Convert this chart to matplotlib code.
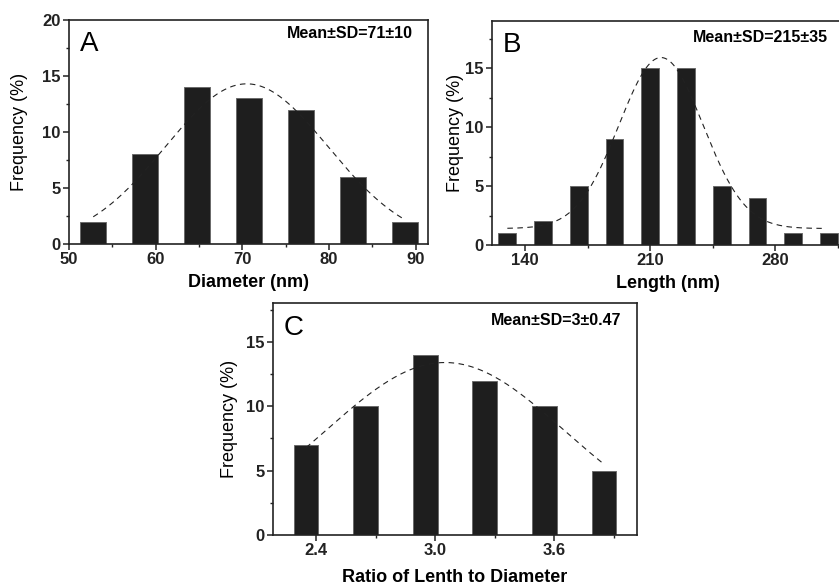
import matplotlib
matplotlib.use("Agg")
import matplotlib.pyplot as plt
import numpy as np
from matplotlib.ticker import MultipleLocator, FormatStrFormatter

plt.rcParams['font.family'] = ['Liberation Sans', 'DejaVu Sans']

# Panel A: diameter histogram
diam_centers = [52.8, 58.8, 64.8, 70.8, 76.8, 82.8, 88.8]
diam_freq = [2, 8, 14, 13, 12, 6, 2]
diam_fit = dict(y0=0.0, xc=70.5, amp=14.3, sigma=9.4, x0=52.8, x1=88.8)

# Panel B: length histogram
len_centers = [130, 150, 170, 190, 210, 230, 250, 270, 290, 310]
len_freq = [1, 2, 5, 9, 15, 15, 5, 4, 1, 1]
len_fit = dict(y0=1.4, xc=216, amp=14.5, sigma=23.5, x0=130, x1=306)

# Panel C: aspect ratio histogram
ratio_centers = [2.35, 2.65, 2.95, 3.25, 3.55, 3.85]
ratio_freq = [7, 10, 14, 12, 10, 5]
ratio_fit = dict(y0=0.0, xc=3.05, amp=13.4, sigma=0.6, x0=2.35, x1=3.85)


def gauss_fit(p, n=200):
    x = np.linspace(p['x0'], p['x1'], n)
    y = p['y0'] + p['amp'] * np.exp(-(x - p['xc']) ** 2 / (2 * p['sigma'] ** 2))
    return x, y


def panel(ax, centers, freq, width, fit, letter, note, xlabel,
          xlim, ylim, xmaj, xmin, ymaj=5, ymin=2.5, note_y=0.93, xfmt=None,
          ypad=2, xpad=5):
    ax.bar(centers, freq, width=width, color='#1e1e1e', edgecolor='#6a6a6a',
           linewidth=0.7, zorder=2)
    x, y = gauss_fit(fit)
    ax.plot(x, y, color='#222222', lw=0.8, ls=(0, (5, 4)), zorder=3)
    ax.set_xlim(*xlim)
    ax.set_ylim(*ylim)
    ax.xaxis.set_major_locator(MultipleLocator(xmaj))
    ax.xaxis.set_minor_locator(MultipleLocator(xmin))
    ax.yaxis.set_major_locator(MultipleLocator(ymaj))
    ax.yaxis.set_minor_locator(MultipleLocator(ymin))
    if xfmt:
        ax.xaxis.set_major_formatter(FormatStrFormatter(xfmt))
    ax.tick_params(which='major', direction='out', length=4, width=1.1,
                   labelsize=12, pad=2, colors='#222222')
    ax.tick_params(which='minor', direction='out', length=2, width=1.0,
                   colors='#222222')
    for lab in ax.get_xticklabels() + ax.get_yticklabels():
        lab.set_fontweight('bold')
    for s in ax.spines.values():
        s.set_linewidth(1.2)
        s.set_color('#222222')
    ax.set_xlabel(xlabel, fontsize=13, fontweight='bold', labelpad=xpad)
    ax.set_ylabel('Frequency (%)', fontsize=13, labelpad=ypad)
    ax.text(0.03, 0.95, letter, transform=ax.transAxes, fontsize=20,
            va='top', ha='left')
    ax.text(0.958, note_y, note, transform=ax.transAxes, fontsize=11.5,
            fontweight='bold', ha='right', va='center')


fig = plt.figure(figsize=(8.39, 5.86), dpi=100)
axA = fig.add_axes([0.0822, 0.5836, 0.4278, 0.3823])
axB = fig.add_axes([0.5864, 0.5819, 0.4186, 0.3823])
axC = fig.add_axes([0.3250, 0.0870, 0.4339, 0.3954])

panel(axA, diam_centers, diam_freq, 3.0, diam_fit, 'A',
      'Mean\u00b1SD=71\u00b110', 'Diameter (nm)',
      (50, 91.4), (0, 20), 10, 5, note_y=0.94, ypad=10)
panel(axB, len_centers, len_freq, 10, len_fit, 'B',
      'Mean\u00b1SD=215\u00b135', 'Length (nm)',
      (121.4, 318), (0, 19), 70, 35, note_y=0.925, ypad=1)
panel(axC, ratio_centers, ratio_freq, 0.125, ratio_fit, 'C',
      'Mean\u00b1SD=3\u00b10.47', 'Ratio of Lenth to Diameter',
      (2.182, 4.015), (0, 18), 0.6, 0.3, note_y=0.925, xfmt='%.1f',
      ypad=6, xpad=8)

fig.savefig('out.png', dpi=100)
